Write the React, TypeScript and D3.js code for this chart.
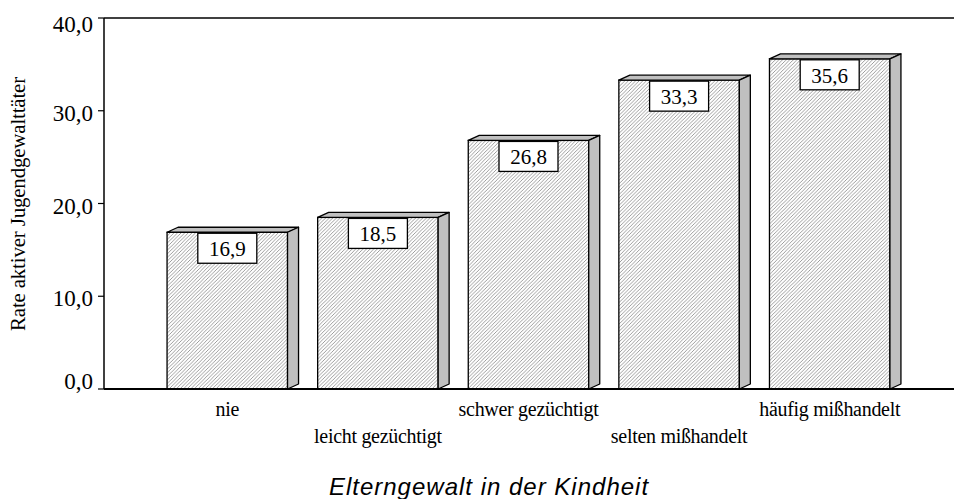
import React from "react";
import * as d3 from "d3";

const categories = ["nie", "leicht gezüchtigt", "schwer gezüchtigt", "selten mißhandelt", "häufig mißhandelt"];
const values = [16.9, 18.5, 26.8, 33.3, 35.6];
const yTicks = [0, 10, 20, 30, 40];
const yLabel = "Rate aktiver Jugendgewalttäter";
const xTitle = "Elterngewalt in der Kindheit";

const W = 954;
const H = 499;
const left = 104;
const top = 18;
const base = 389;
const DX = 11;
const DY = 5;

const fmt = (v: number) => v.toFixed(1).replace(".", ",");

export default function App() {
  const y = d3.scaleLinear().domain([0, 40]).range([base, top]);
  const x = d3
    .scaleBand<string>()
    .domain(categories)
    .range([152, 905])
    .paddingInner(0.2)
    .paddingOuter(0.1);
  const bw = x.bandwidth();
  const serif = "'Liberation Serif', 'Times New Roman', serif";

  return (
    <svg width={W} height={H} style={{ position: "absolute", left: 0, top: 0, background: "#fff" }}>
      <defs>
        <pattern id="hatch" patternUnits="userSpaceOnUse" width="3.6" height="3.6">
          <rect width="3.6" height="3.6" fill="#fff" />
          <path d="M-1,1 L1,-1 M0,3.6 L3.6,0 M2.6,4.6 L4.6,2.6" stroke="#8c8c8c" strokeWidth="0.85" />
        </pattern>
      </defs>
      <rect x={0} y={0} width={W} height={H} fill="#fff" />
      <line x1={left} x2={W} y1={top} y2={top} stroke="#000" strokeWidth={1.5} />
      <line x1={left} x2={left} y1={top} y2={base} stroke="#000" strokeWidth={1.5} />
      {yTicks.map((t) => (
        <g key={t}>
          <line x1={left - 6} x2={left} y1={y(t)} y2={y(t)} stroke="#000" strokeWidth={1.2} />
          <text
            x={left - 11}
            y={Math.max(top + 14, Math.min(base, y(t) + 10))}
            textAnchor="end"
            fontFamily={serif}
            fontSize={23}
          >
            {fmt(t)}
          </text>
        </g>
      ))}
      {categories.map((c, i) => {
        const x0 = x(c)!;
        const yt = y(values[i]);
        const x1 = x0 + bw;
        const cx = x0 + bw / 2;
        const topPts = `${x0},${yt} ${x0 + DX},${yt - DY} ${x1 + DX},${yt - DY} ${x1},${yt}`;
        const sidePts = `${x1},${yt} ${x1 + DX},${yt - DY} ${x1 + DX},${base - DY} ${x1},${base}`;
        return (
          <g key={c}>
            <rect x={x0} y={yt} width={bw} height={base - yt} fill="url(#hatch)" stroke="#000" strokeWidth={1.3} />
            <polygon points={topPts} fill="#c0c0c0" stroke="#000" strokeWidth={1.3} strokeLinejoin="round" />
            <polygon points={sidePts} fill="#c0c0c0" stroke="#000" strokeWidth={1.3} strokeLinejoin="round" />
            <rect x={cx - 29.5} y={yt + 1} width={59} height={30} fill="#fff" stroke="#000" strokeWidth={1.3} />
            <text x={cx} y={yt + 24} textAnchor="middle" fontFamily={serif} fontSize={21}>
              {fmt(values[i])}
            </text>
          </g>
        );
      })}
      <line x1={left} x2={W} y1={base} y2={base} stroke="#000" strokeWidth={2} />
      {categories.map((c, i) => (
        <text
          key={c}
          x={x(c)! + bw / 2}
          y={i % 2 === 0 ? 416 : 443}
          textAnchor="middle"
          fontFamily={serif}
          fontSize={20}
          letterSpacing={-0.3}
        >
          {c}
        </text>
      ))}
      <text
        transform={`translate(25,204) rotate(-90)`}
        textAnchor="middle"
        fontFamily={serif}
        fontSize={21}
        letterSpacing={-0.2}
      >
        {yLabel}
      </text>
      <text
        x={489}
        y={495}
        textAnchor="middle"
        fontFamily="'Liberation Sans', Arial, sans-serif"
        fontStyle="italic"
        fontSize={24}
        letterSpacing={1}
      >
        {xTitle}
      </text>
    </svg>
  );
}
